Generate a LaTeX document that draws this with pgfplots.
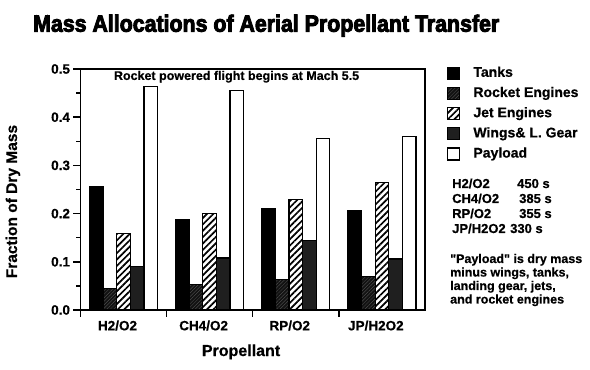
\documentclass[border=0pt]{standalone}
\usepackage{fontspec}
\setmainfont{Liberation Sans}[BoldFeatures={FakeBold=0.6}]
\newfontfamily\titlefont{Liberation Sans}[FakeBold=4]
\newfontfamily\notefont{Liberation Sans}[Ligatures=ResetAll, BoldFeatures={FakeBold=0.6}]
\usepackage{pgfplots}
\pgfplotsset{compat=1.18}
\usetikzlibrary{patterns,patterns.meta}
\newcommand{\fs}[1]{\fontsize{#1}{#1}\selectfont}
\begin{document}
\begin{tikzpicture}[x=1pt,y=1pt]
\useasboundingbox (0,0) rectangle (590,370);
\node[anchor=base west, inner sep=0pt] at (33,338.3) {\resizebox{466pt}{17pt}{\titlefont\bfseries Mass Allocations of Aerial Propellant Transfer}};
\begin{axis}[
  at={(80.5pt,60pt)}, anchor=south west,
  width=344.5pt, height=241pt, scale only axis,
  xmin=0.5, xmax=4.5, ymin=0, ymax=0.5,
  ybar=0pt, bar width=13.6pt,
  xtick={0.5,1.5,2.5,3.5},
  xticklabels={H2/O2,CH4/O2,RP/O2,JP/H2O2},
  x tick label style={xshift=37pt},
  ytick={0,0.1,0.2,0.3,0.4,0.5},
  minor y tick num=1,
  tick align=outside, tick pos=left,
  major tick length=7pt, minor tick length=4pt,
  axis line style={line width=1.6pt},
  tick style={line width=1.5pt, black},
  y tick label style={/pgf/number format/fixed, /pgf/number format/fixed zerofill, /pgf/number format/precision=1},
  /pgf/number format/assume math mode=true,
  tick label style={font=\bfseries\fs{13.5}},
  ylabel={Fraction of Dry Mass},
  ylabel style={font=\bfseries\fs{15.5}, at={(axis description cs:-0.196,0.45)}, anchor=center},
  xlabel={Propellant},
  xlabel style={font=\bfseries\fs{16}, at={(axis description cs:0.466,-0.191)}, anchor=base},
  legend image code/.code={\draw[#1, line width=1.2pt] (0pt,-6pt) rectangle (12pt,6pt);},
  legend cell align=left,
  legend style={at={(axis description cs:1.064,1.0104)}, anchor=north west, draw=none, fill=none,
    inner sep=0pt, row sep=7pt, font=\bfseries\fs{14},
    nodes={inner sep=0pt, text height=10pt, text depth=3pt},
    /tikz/every odd column/.append style={column sep=13pt}},
  every axis plot/.append style={draw=black, line width=1.2pt},
]
\addplot[fill=black] coordinates {(1,0.255) (2,0.188) (3,0.211) (4,0.207)};
\addplot[fill=black!93, postaction={pattern={Lines[angle=45,distance=2.5pt,line width=0.3pt]}, pattern color=black!65}] coordinates {(1,0.044) (2,0.053) (3,0.063) (4,0.070)};
\addplot[fill=white, postaction={pattern={Lines[angle=45,distance=4.5pt,line width=1.7pt]}}] coordinates {(1,0.159) (2,0.201) (3,0.229) (4,0.264)};
\addplot[fill=black!90, postaction={pattern={Dots[distance=2pt,radius=0.35pt]}, pattern color=black!60}] coordinates {(1,0.090) (2,0.108) (3,0.145) (4,0.106)};
\addplot[fill=white] coordinates {(1,0.463) (2,0.456) (3,0.355) (4,0.360)};
\legend{Tanks, Rocket Engines, Jet Engines, {Wings\& L. Gear}, Payload}
\node[font=\bfseries\fs{12.5}] at (rel axis cs:0.453,0.968) {Rocket powered flight begins at Mach 5.5};
\end{axis}
\begin{scope}[every node/.style={anchor=base west, inner sep=0pt, font=\bfseries\fs{13}}]
\node at (452,182) {H2/O2};   \node at (517,182) {450 s};
\node at (452,167) {CH4/O2};  \node at (519,167) {385 s};
\node at (452,152) {RP/O2};   \node at (519,152) {355 s};
\node at (452,137) {JP/H2O2}; \node at (510,137) {330 s};
\end{scope}
\begin{scope}[every node/.style={anchor=base west, inner sep=0pt, font=\notefont\bfseries\fs{12.5}}]
\node at (450,107) {"Payload" is dry mass};
\node at (450,93.5) {minus wings, tanks,};
\node at (450,80) {landing gear, jets,};
\node at (450,66.5) {and rocket engines};
\end{scope}
\end{tikzpicture}
\end{document}
